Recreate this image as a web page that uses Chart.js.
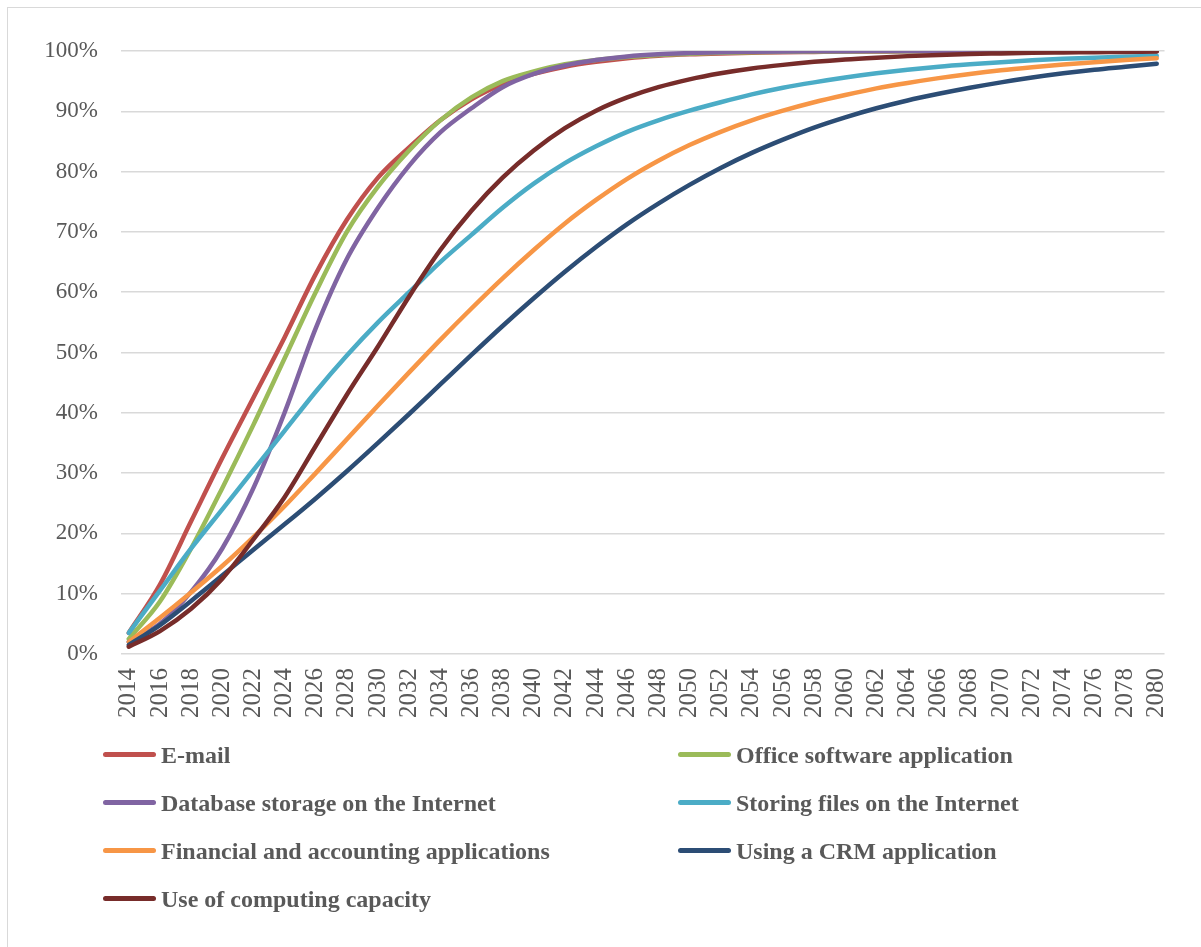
<!DOCTYPE html>
<html>
<head>
<meta charset="utf-8">
<script src="https://cdn.jsdelivr.net/npm/chart.js@4.4.1/dist/chart.umd.min.js"></script>
<style>
  html, body { margin: 0; padding: 0; background: #fff; width: 1201px; height: 947px; overflow: hidden; }
  #frame { position: absolute; left: 7px; top: 7px; width: 1300px; height: 1100px; border: 1px solid #d9d9d9; box-sizing: border-box; }
  #wrap { position: absolute; left: 0; top: 0; width: 1201px; height: 735px; }
  #legend { position: absolute; left: 0; top: 731px; width: 1201px; font-family: "Liberation Serif", "Times New Roman", serif; font-weight: bold; font-size: 24px; color: #595959; }
  .item { position: absolute; height: 48px; line-height: 48px; white-space: nowrap; }
  .item .sw { position: absolute; left: 0; top: 21px; width: 53px; height: 5px; border-radius: 3px; }
  .item .tx { position: absolute; left: 58px; top: 0; }
</style>
</head>
<body>
<div id="frame"></div>
<div id="wrap"><canvas id="c" width="1201" height="735"></canvas></div>
<div id="legend"></div>
<script>
const years = [2014,2016,2018,2020,2022,2024,2026,2028,2030,2032,2034,2036,2038,2040,2042,2044,2046,2048,2050,2052,2054,2056,2058,2060,2062,2064,2066,2068,2070,2072,2074,2076,2078,2080];
const yTicks = [0,10,20,30,40,50,60,70,80,90,100];
const seriesNames = ["E-mail","Office software application","Database storage on the Internet","Storing files on the Internet","Financial and accounting applications","Using a CRM application","Use of computing capacity"];

const email     = [3.5,11.5,22,32.5,42.5,52.5,63,72,79,84,88.5,92,94.5,96.2,97.4,98.2,98.8,99.2,99.45,99.6,99.7,99.8,99.85,99.9,99.92,99.94,99.95,99.96,99.97,99.98,99.98,99.99,99.99,99.99];
const office    = [2.5,8.7,17.5,27.5,38,49,60,70,77.5,83.5,88.5,92.3,95,96.6,97.8,98.5,99.0,99.35,99.55,99.7,99.8,99.86,99.9,99.93,99.95,99.96,99.97,99.98,99.98,99.99,99.99,99.99,99.99,99.99];
const database  = [2,5,10.3,17.5,27.5,40,54,65.5,74,81,86.5,90.5,94,96.2,97.6,98.5,99.1,99.45,99.65,99.8,99.87,99.92,99.95,99.97,99.98,99.99,99.99,99.99,99.99,99.99,99.99,99.99,99.99,99.99];
const storing   = [3.5,10.5,17.5,24,30.5,37,43.5,49.5,55,60,65,69.5,74,78,81.4,84.2,86.6,88.5,90.1,91.5,92.8,93.9,94.8,95.6,96.3,96.9,97.4,97.8,98.15,98.45,98.7,98.9,99.05,99.2];
const financial = [2,6,10.2,14.6,19.4,24.5,30,35.6,41.2,46.7,52.1,57.3,62.3,67,71.4,75.3,78.8,81.8,84.4,86.6,88.5,90.1,91.5,92.7,93.8,94.7,95.5,96.2,96.8,97.3,97.75,98.15,98.5,98.8];
const crm       = [1.5,4.8,8.8,13,17.3,21.5,25.8,30.3,35,39.8,44.7,49.6,54.4,59,63.4,67.5,71.3,74.7,77.8,80.6,83.1,85.3,87.3,89.0,90.5,91.8,92.9,93.9,94.8,95.6,96.3,96.9,97.4,97.9];
const computing = [1.2,3.8,7.5,12.5,19,26,34.5,43,51,59.3,67,73.5,79,83.5,87.2,90.1,92.3,94,95.3,96.3,97.1,97.7,98.2,98.6,98.9,99.15,99.35,99.5,99.6,99.7,99.75,99.8,99.85,99.9];

const allSeries = [email, office, database, storing, financial, crm, computing];
const colors = ["#C0504D","#9BBB59","#8064A2","#4BACC6","#F79646","#2C4D75","#772C2A"];

const FONT = '"Liberation Serif", "Times New Roman", serif';

const datasets = allSeries.map((vals, i) => ({
  label: seriesNames[i],
  data: vals.map((v, j) => ({x: years[j], y: v})),
  borderColor: colors[i],
  backgroundColor: colors[i],
  borderWidth: 4.5,
  pointRadius: 0,
  pointHoverRadius: 0,
  fill: false,
  cubicInterpolationMode: 'monotone',
  borderCapStyle: 'round',
  borderJoinStyle: 'round',
  order: allSeries.length - i
}));

new Chart(document.getElementById('c'), {
  type: 'line',
  data: { datasets },
  options: {
    responsive: false,
    animation: false,
    events: [],
    layout: { padding: { left: 0, right: 35, top: 51, bottom: 0 } },
    plugins: { legend: { display: false }, tooltip: { enabled: false } },
    scales: {
      x: {
        type: 'linear',
        min: 2013.5,
        max: 2080.5,
        afterBuildTicks: (s) => { s.ticks = years.map(v => ({ value: v })); },
        afterFit: (s) => { s.height = 735 - 654; },
        grid: { display: false, drawTicks: false },
        border: { display: false },
        ticks: {
          autoSkip: false,
          minRotation: 90,
          maxRotation: 90,
          padding: 14,
          color: '#595959',
          font: { family: FONT, size: 25 },
          callback: (v) => String(v)
        }
      },
      y: {
        min: 0,
        max: 100,
        afterBuildTicks: (s) => { s.ticks = yTicks.map(v => ({ value: v })); },
        afterFit: (s) => { s.width = 121; },
        grid: { color: '#d9d9d9', lineWidth: 1.5, drawTicks: false },
        border: { display: false },
        ticks: {
          padding: 23,
          color: '#595959',
          font: { family: FONT, size: 23 },
          callback: (v) => v + '%'
        }
      }
    }
  }
});

// HTML legend built from the series names and colours (2 columns)
const legend = document.getElementById('legend');
seriesNames.forEach((name, i) => {
  const col = i % 2, row = Math.floor(i / 2);
  const d = document.createElement('div');
  d.className = 'item';
  d.style.left = (col === 0 ? 103 : 678) + 'px';
  d.style.top = (row * 48) + 'px';
  d.innerHTML = '<span class="sw" style="background:' + colors[i] + '"></span><span class="tx"></span>';
  d.querySelector('.tx').textContent = name;
  legend.appendChild(d);
});
</script>
</body>
</html>
